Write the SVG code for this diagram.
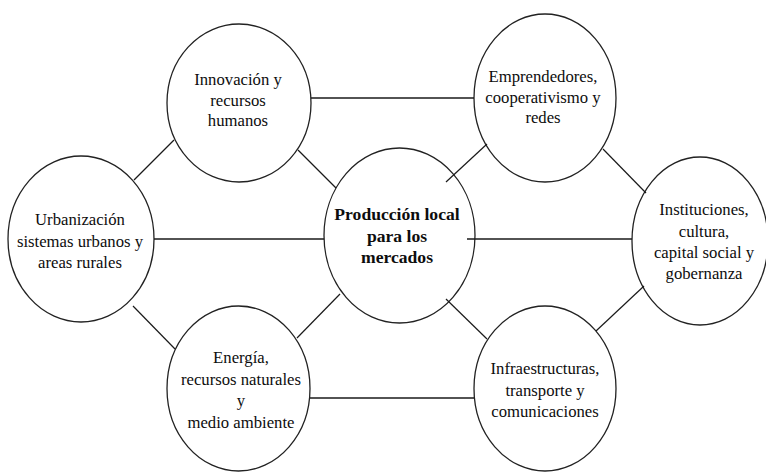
<svg xmlns="http://www.w3.org/2000/svg" width="766" height="472" viewBox="0 0 766 472">
  <style>
    .node ellipse { fill: none; stroke: #222222; stroke-width: 1.3; }
    .node text { font-family: "Liberation Serif", "DejaVu Serif", serif; font-size: 16.7px; fill: #0d0d0d; text-anchor: middle; }
    .node.main text { font-weight: bold; font-size: 17.6px; }
    .links line { stroke: #1a1a1a; stroke-width: 1.2; }
    .links line.h { stroke-width: 1.7; }
  </style>
  <rect width="766" height="472" fill="#ffffff"/>

  <g id="innovacion" class="node">
    <ellipse cx="239" cy="103" rx="72" ry="79"/>
    <text x="238" y="85">Innovación y</text>
    <text x="238" y="105.5">recursos</text>
    <text x="238" y="126">humanos</text>
  </g>

  <g id="emprendedores" class="node">
    <ellipse cx="545" cy="98" rx="71" ry="84"/>
    <text x="543" y="82">Emprendedores,</text>
    <text x="543" y="102.5">cooperativismo y</text>
    <text x="543" y="123">redes</text>
  </g>

  <g id="urbanizacion" class="node">
    <ellipse cx="81" cy="239" rx="73" ry="83"/>
    <text x="80" y="225">Urbanización</text>
    <text x="80" y="246.5">sistemas urbanos y</text>
    <text x="80" y="268">areas rurales</text>
  </g>

  <g id="produccion" class="node main">
    <ellipse cx="399.5" cy="235.5" rx="75.5" ry="87.5"/>
    <text x="397" y="220">Producción local</text>
    <text x="397" y="241.5">para los</text>
    <text x="397" y="263">mercados</text>
  </g>

  <g id="instituciones" class="node">
    <ellipse cx="700" cy="241" rx="68" ry="84"/>
    <text x="704" y="215">Instituciones,</text>
    <text x="704" y="236.5">cultura,</text>
    <text x="704" y="258">capital social y</text>
    <text x="704" y="279">gobernanza</text>
  </g>

  <g id="energia" class="node">
    <ellipse cx="238.5" cy="388.5" rx="71.5" ry="82.5"/>
    <text x="241" y="363">Energía,</text>
    <text x="241" y="384.5">recursos naturales</text>
    <text x="241" y="406">y</text>
    <text x="241" y="428">medio ambiente</text>
  </g>

  <g id="infraestructuras" class="node">
    <ellipse cx="545" cy="388.5" rx="71" ry="82.5"/>
    <text x="545" y="374">Infraestructuras,</text>
    <text x="545" y="395.5">transporte y</text>
    <text x="545" y="417">comunicaciones</text>
  </g>

  <!-- connectors; a few ends run slightly past the ellipse outlines -->
  <g id="connectors" class="links">
    <line class="h" x1="311" y1="98" x2="474" y2="98"/>
    <line class="h" x1="154" y1="239" x2="324" y2="239"/>
    <line class="h" x1="467" y1="239" x2="632" y2="239"/>
    <line class="h" x1="310" y1="398" x2="474" y2="398"/>
    <line x1="174" y1="140" x2="134" y2="180"/>
    <line x1="298" y1="150" x2="336" y2="188"/>
    <line x1="446" y1="182" x2="487" y2="144"/>
    <line x1="603" y1="149" x2="646" y2="193"/>
    <line x1="133" y1="306" x2="175" y2="349"/>
    <line x1="340" y1="294" x2="297" y2="338"/>
    <line x1="446" y1="299" x2="487" y2="339"/>
    <line x1="644" y1="286" x2="596" y2="331"/>
  </g>
</svg>
